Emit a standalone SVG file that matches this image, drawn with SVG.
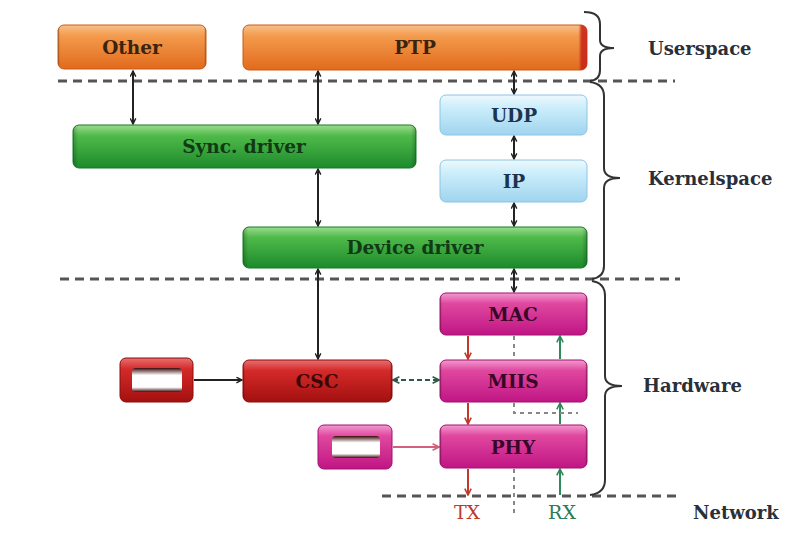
<svg xmlns="http://www.w3.org/2000/svg" width="806" height="533" viewBox="0 0 806 533">
  <defs>
    <linearGradient id="gOrange" x1="0" y1="0" x2="0" y2="1">
      <stop offset="0" stop-color="#f8c08a"/>
      <stop offset="0.25" stop-color="#f39a4c"/>
      <stop offset="1" stop-color="#e26a1c"/>
    </linearGradient>
    <linearGradient id="gGreen" x1="0" y1="0" x2="0" y2="1">
      <stop offset="0" stop-color="#9ddc8f"/>
      <stop offset="0.25" stop-color="#4fba4a"/>
      <stop offset="1" stop-color="#1c8a2c"/>
    </linearGradient>
    <linearGradient id="gBlue" x1="0" y1="0" x2="0" y2="1">
      <stop offset="0" stop-color="#eef9fe"/>
      <stop offset="0.3" stop-color="#cdeefb"/>
      <stop offset="1" stop-color="#9fd4ef"/>
    </linearGradient>
    <linearGradient id="gRed" x1="0" y1="0" x2="0" y2="1">
      <stop offset="0" stop-color="#e87070"/>
      <stop offset="0.25" stop-color="#d42a2a"/>
      <stop offset="1" stop-color="#a3100f"/>
    </linearGradient>
    <linearGradient id="gPink" x1="0" y1="0" x2="0" y2="1">
      <stop offset="0" stop-color="#f39ad0"/>
      <stop offset="0.25" stop-color="#e0489f"/>
      <stop offset="1" stop-color="#c01584"/>
    </linearGradient>
    <!-- darker rim at the side edges of each block -->
    <linearGradient id="gRim" x1="0" y1="0" x2="1" y2="0">
      <stop offset="0" stop-color="#000" stop-opacity="0.22"/>
      <stop offset="0.015" stop-color="#000" stop-opacity="0"/>
      <stop offset="0.985" stop-color="#000" stop-opacity="0"/>
      <stop offset="1" stop-color="#000" stop-opacity="0.22"/>
    </linearGradient>
    <linearGradient id="gPtpEnd" x1="0" y1="0" x2="1" y2="0">
      <stop offset="0.975" stop-color="#c8281a" stop-opacity="0"/>
      <stop offset="0.985" stop-color="#c8281a" stop-opacity="0.9"/>
      <stop offset="1" stop-color="#c8281a" stop-opacity="0.9"/>
    </linearGradient>
    <linearGradient id="gSlot" x1="0" y1="0" x2="0" y2="1">
      <stop offset="0" stop-color="#3a0a0a"/>
      <stop offset="0.3" stop-color="#ffffff"/>
      <stop offset="0.8" stop-color="#ffffff"/>
      <stop offset="1" stop-color="#3a0a0a"/>
    </linearGradient>
    <marker id="aBlack" viewBox="0 0 10 10" refX="9" refY="5" markerWidth="7" markerHeight="7" orient="auto-start-reverse" markerUnits="userSpaceOnUse">
      <path d="M1,1 L9,5 L1,9" fill="none" stroke="#222" stroke-width="2"/>
    </marker>
    <marker id="aTeal" viewBox="0 0 10 10" refX="9" refY="5" markerWidth="8" markerHeight="8" orient="auto-start-reverse" markerUnits="userSpaceOnUse">
      <path d="M1,1 L9,5 L1,9" fill="none" stroke="#2f5a4a" stroke-width="2"/>
    </marker>
    <marker id="aRed" viewBox="0 0 10 10" refX="9" refY="5" markerWidth="8" markerHeight="8" orient="auto" markerUnits="userSpaceOnUse">
      <path d="M1,1 L9,5 L1,9" fill="none" stroke="#c0392b" stroke-width="2"/>
    </marker>
    <marker id="aGreen" viewBox="0 0 10 10" refX="9" refY="5" markerWidth="8" markerHeight="8" orient="auto" markerUnits="userSpaceOnUse">
      <path d="M1,1 L9,5 L1,9" fill="none" stroke="#2e8a5a" stroke-width="2"/>
    </marker>
    <marker id="aPink" viewBox="0 0 10 10" refX="9" refY="5" markerWidth="8" markerHeight="8" orient="auto" markerUnits="userSpaceOnUse">
      <path d="M1,1 L9,5 L1,9" fill="none" stroke="#d2607a" stroke-width="2"/>
    </marker>
  </defs>
  <style>
    .lbl { font-family: "DejaVu Serif", "Liberation Serif", serif; font-weight: bold; font-size: 18.5px; text-anchor: middle; }
    .side { font-family: "DejaVu Serif", "Liberation Serif", serif; font-weight: bold; font-size: 18px; fill: #2a2f3a; }
    .io { font-family: "DejaVu Serif", "Liberation Serif", serif; font-size: 19px; text-anchor: middle; }
    .sep { stroke: #555; stroke-width: 3; stroke-dasharray: 9 6; fill: none; }
    .brace { stroke: #333; stroke-width: 2; fill: none; }
    .blk { stroke-width: 1; }
    .rim { fill: url(#gRim); }
    .conn { stroke: #222; stroke-width: 2; fill: none; }
  </style>

  <rect width="806" height="533" fill="#ffffff"/>

  <!-- layer separators -->
  <g id="separators">
    <line class="sep" x1="58" y1="81" x2="675" y2="81"/>
    <line class="sep" x1="60" y1="279" x2="680" y2="279"/>
    <line class="sep" x1="382" y1="496" x2="682" y2="496"/>
  </g>

  <!-- layer braces -->
  <g id="braces">
    <path class="brace" d="M584,12 Q600,12 600,24 L600,40 Q600,48 614,48 Q600,48 600,56 L600,70 Q600,80 590,81"/>
    <path class="brace" d="M590,82 Q604,84 604,96 L604,168 Q604,178 620,178 Q604,178 604,188 L604,266 Q604,277 592,279"/>
    <path class="brace" d="M592,281 Q605,283 605,296 L605,376 Q605,386 622,386 Q605,386 605,396 L605,480 Q605,493 590,495"/>
  </g>

  <!-- connectors -->
  <g id="connectors">
    <line class="conn" x1="133" y1="71" x2="133" y2="124" marker-start="url(#aBlack)" marker-end="url(#aBlack)"/>
    <line class="conn" x1="318" y1="71" x2="318" y2="124" marker-start="url(#aBlack)" marker-end="url(#aBlack)"/>
    <line class="conn" x1="318" y1="169" x2="318" y2="226" marker-start="url(#aBlack)" marker-end="url(#aBlack)"/>
    <line class="conn" x1="318" y1="269" x2="318" y2="359" marker-start="url(#aBlack)" marker-end="url(#aBlack)"/>
    <line class="conn" x1="514" y1="71" x2="514" y2="94" marker-start="url(#aBlack)" marker-end="url(#aBlack)"/>
    <line class="conn" x1="514" y1="136" x2="514" y2="159" marker-start="url(#aBlack)" marker-end="url(#aBlack)"/>
    <line class="conn" x1="514" y1="203" x2="514" y2="226" marker-start="url(#aBlack)" marker-end="url(#aBlack)"/>
    <line class="conn" x1="514" y1="269" x2="514" y2="292" marker-start="url(#aBlack)" marker-end="url(#aBlack)"/>
    <line class="conn" x1="194" y1="380" x2="242" y2="380" marker-end="url(#aBlack)"/>
    <line x1="393" y1="380" x2="439" y2="380" stroke="#2f5a4a" stroke-width="2" stroke-dasharray="5 3" marker-start="url(#aTeal)" marker-end="url(#aTeal)"/>
    <line x1="393" y1="447" x2="439" y2="447" stroke="#d2607a" stroke-width="2" marker-end="url(#aPink)"/>
    <!-- transmit path -->
    <line x1="468" y1="336" x2="468" y2="359" stroke="#c0392b" stroke-width="2" marker-end="url(#aRed)"/>
    <line x1="468" y1="403" x2="468" y2="424" stroke="#c0392b" stroke-width="2" marker-end="url(#aRed)"/>
    <line x1="468" y1="469" x2="468" y2="495" stroke="#c0392b" stroke-width="2" marker-end="url(#aRed)"/>
    <!-- receive path -->
    <line x1="560" y1="359" x2="560" y2="336" stroke="#2e8a5a" stroke-width="2" marker-end="url(#aGreen)"/>
    <line x1="560" y1="424" x2="560" y2="403" stroke="#2e8a5a" stroke-width="2" marker-end="url(#aGreen)"/>
    <line x1="560" y1="495" x2="560" y2="469" stroke="#2e8a5a" stroke-width="2" marker-end="url(#aGreen)"/>
    <!-- TX/RX boundary -->
    <g stroke="#888" stroke-width="2" stroke-dasharray="4 4" fill="none">
      <line x1="514" y1="336" x2="514" y2="359"/>
      <path d="M514,403 L514,413 L578,413"/>
      <line x1="514" y1="469" x2="514" y2="514"/>
    </g>
  </g>

  <!-- userspace -->
  <g id="other">
    <rect class="blk" x="58" y="25" width="148" height="44" rx="6" fill="url(#gOrange)" stroke="#c85a18"/>
    <rect class="rim" x="58" y="25" width="148" height="44" rx="6"/>
    <text class="lbl" x="132" y="54" fill="#3a2410">Other</text>
  </g>
  <g id="ptp">
    <rect class="blk" x="243" y="25" width="344" height="45" rx="6" fill="url(#gOrange)" stroke="#c85a18"/>
    <rect x="243" y="25" width="344" height="45" rx="6" fill="url(#gPtpEnd)"/>
    <text class="lbl" x="415" y="54" fill="#3a2410">PTP</text>
  </g>

  <!-- kernelspace -->
  <g id="sync-driver">
    <rect class="blk" x="73" y="125" width="343" height="43" rx="6" fill="url(#gGreen)" stroke="#177a26"/>
    <rect class="rim" x="73" y="125" width="343" height="43" rx="6"/>
    <text class="lbl" x="244" y="153" fill="#103a14">Sync. driver</text>
  </g>
  <g id="udp">
    <rect class="blk" x="440" y="95" width="147" height="40" rx="6" fill="url(#gBlue)" stroke="#8ec4e0"/>
    <text class="lbl" x="514" y="122" fill="#1e3350">UDP</text>
  </g>
  <g id="ip">
    <rect class="blk" x="440" y="160" width="147" height="42" rx="6" fill="url(#gBlue)" stroke="#8ec4e0"/>
    <text class="lbl" x="514" y="188" fill="#1e3350">IP</text>
  </g>
  <g id="device-driver">
    <rect class="blk" x="243" y="227" width="344" height="41" rx="6" fill="url(#gGreen)" stroke="#177a26"/>
    <rect class="rim" x="243" y="227" width="344" height="41" rx="6"/>
    <text class="lbl" x="415" y="254" fill="#103a14">Device driver</text>
  </g>

  <!-- hardware -->
  <g id="clock-source">
    <rect class="blk" x="120" y="358" width="73" height="44" rx="6" fill="url(#gRed)" stroke="#8a0c0c"/>
    <rect x="132" y="368" width="50" height="24" rx="4" fill="url(#gSlot)"/>
  </g>
  <g id="csc">
    <rect class="blk" x="243" y="360" width="149" height="42" rx="6" fill="url(#gRed)" stroke="#8a0c0c"/>
    <rect class="rim" x="243" y="360" width="149" height="42" rx="6"/>
    <text class="lbl" x="317" y="388" fill="#3a0606">CSC</text>
  </g>
  <g id="mac">
    <rect class="blk" x="440" y="293" width="147" height="42" rx="6" fill="url(#gPink)" stroke="#a01070"/>
    <rect class="rim" x="440" y="293" width="147" height="42" rx="6"/>
    <text class="lbl" x="513" y="321" fill="#3a0628">MAC</text>
  </g>
  <g id="miis">
    <rect class="blk" x="440" y="360" width="147" height="42" rx="6" fill="url(#gPink)" stroke="#a01070"/>
    <rect class="rim" x="440" y="360" width="147" height="42" rx="6"/>
    <text class="lbl" x="513" y="388" fill="#3a0628">MIIS</text>
  </g>
  <g id="oscillator">
    <rect class="blk" x="318" y="425" width="74" height="44" rx="6" fill="url(#gPink)" stroke="#a01070"/>
    <rect x="332" y="436" width="48" height="22" rx="4" fill="url(#gSlot)"/>
  </g>
  <g id="phy">
    <rect class="blk" x="440" y="425" width="147" height="43" rx="6" fill="url(#gPink)" stroke="#a01070"/>
    <rect class="rim" x="440" y="425" width="147" height="43" rx="6"/>
    <text class="lbl" x="513" y="454" fill="#3a0628">PHY</text>
  </g>

  <!-- annotations -->
  <g id="labels">
    <text class="side" x="648" y="55">Userspace</text>
    <text class="side" x="648" y="185">Kernelspace</text>
    <text class="side" x="643" y="392">Hardware</text>
    <text class="side" x="693" y="519">Network</text>
    <text class="io" x="467" y="519" fill="#c0392b">TX</text>
    <text class="io" x="562" y="519" fill="#2e7a5a">RX</text>
  </g>
</svg>
